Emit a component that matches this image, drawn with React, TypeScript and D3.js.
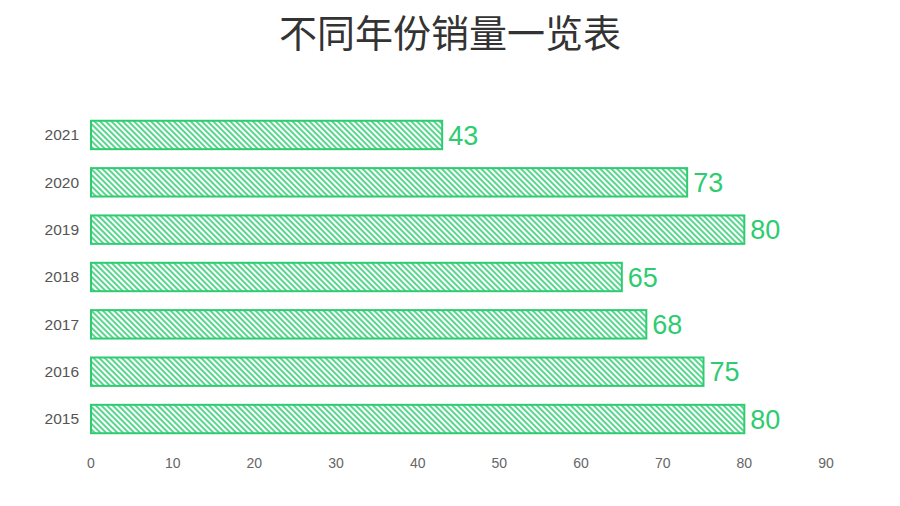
import { useEffect, useRef } from "react";
import * as d3 from "d3";

const years = ["2015", "2016", "2017", "2018", "2019", "2020", "2021"];
const sales = [80, 75, 68, 65, 80, 73, 43];
const xTicks = [0, 10, 20, 30, 40, 50, 60, 70, 80, 90];
const title = "不同年份销量一览表";

export default function App() {
  const ref = useRef<SVGSVGElement>(null);

  useEffect(() => {
    if (!ref.current) return;
    const svg = d3.select(ref.current);
    svg.selectAll("*").remove();

    const width = 900;
    const height = 506;
    const green = "#2ecc71";

    const x = d3.scaleLinear().domain([0, 90]).range([91, 826]);
    const y = d3
      .scaleBand<string>()
      .domain([...years].reverse())
      .range([111.3, 442.7])
      .paddingInner(0.4)
      .paddingOuter(0.2);

    // hatch pattern
    const defs = svg.append("defs");
    const pat = defs
      .append("pattern")
      .attr("id", "hatch")
      .attr("patternUnits", "userSpaceOnUse")
      .attr("width", 4)
      .attr("height", 4)
      .attr("patternTransform", "rotate(-45)");
    pat
      .append("line")
      .attr("x1", 1)
      .attr("y1", 0)
      .attr("x2", 1)
      .attr("y2", 4)
      .attr("stroke", green)
      .attr("stroke-width", 1.6);

    svg
      .append("rect")
      .attr("width", width)
      .attr("height", height)
      .attr("fill", "#fff");

    // title
    svg
      .append("text")
      .attr("x", 450)
      .attr("y", 47)
      .attr("text-anchor", "middle")
      .style("font-family", "'Noto Sans CJK SC', sans-serif")
      .style("font-size", "38px")
      .style("fill", "#333")
      .text(title);

    const data = years.map((yr, i) => ({ yr, v: sales[i] }));

    // bars
    svg
      .append("g")
      .selectAll("rect")
      .data(data)
      .join("rect")
      .attr("x", x(0))
      .attr("y", (d) => y(d.yr)!)
      .attr("width", (d) => x(d.v) - x(0))
      .attr("height", y.bandwidth())
      .attr("fill", "url(#hatch)")
      .attr("stroke", green)
      .attr("stroke-width", 2);

    // value labels
    svg
      .append("g")
      .selectAll("text")
      .data(data)
      .join("text")
      .attr("x", (d) => x(d.v) + 6)
      .attr("y", (d) => y(d.yr)! + y.bandwidth() / 2)
      .attr("dy", "0.36em")
      .style("font-family", "Arial, 'Liberation Sans', sans-serif")
      .style("font-size", "27px")
      .style("fill", green)
      .text((d) => d.v);

    // y labels
    svg
      .append("g")
      .selectAll("text")
      .data(years)
      .join("text")
      .attr("x", 79)
      .attr("y", (d) => y(d)! + y.bandwidth() / 2)
      .attr("dy", "0.35em")
      .attr("text-anchor", "end")
      .style("font-family", "Arial, 'Liberation Sans', sans-serif")
      .style("font-size", "15.5px")
      .style("fill", "#555")
      .text((d) => d);

    // x labels
    svg
      .append("g")
      .selectAll("text")
      .data(xTicks)
      .join("text")
      .attr("x", (d) => x(d))
      .attr("y", 468)
      .attr("text-anchor", "middle")
      .style("font-family", "Arial, 'Liberation Sans', sans-serif")
      .style("font-size", "14px")
      .style("fill", "#666")
      .text((d) => d);
  }, []);

  return (
    <svg
      ref={ref}
      width={900}
      height={506}
      style={{ display: "block", position: "absolute", left: 0, top: 0 }}
    />
  );
}
